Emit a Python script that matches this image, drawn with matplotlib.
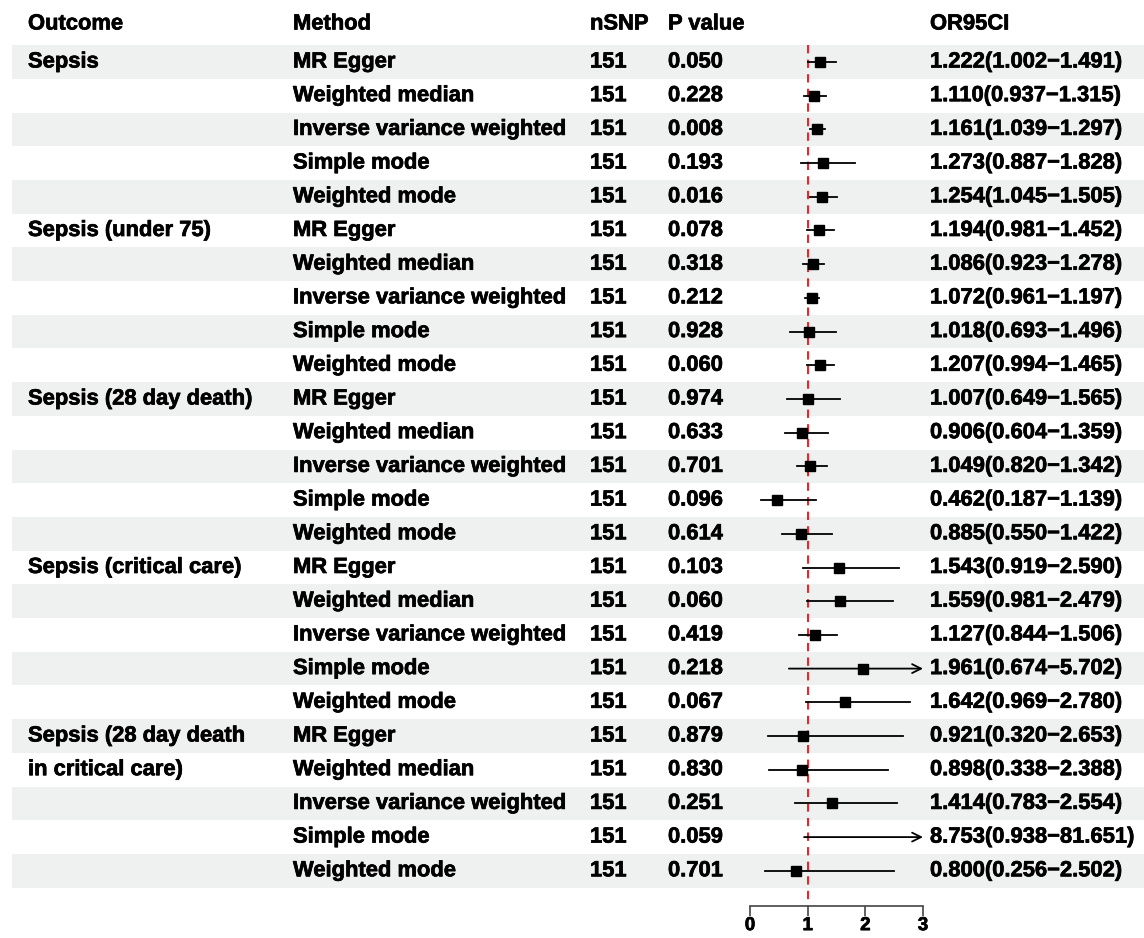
import matplotlib
matplotlib.use("Agg")
import matplotlib.pyplot as plt
from matplotlib.patches import Rectangle
import matplotlib.patheffects as pe

plt.rcParams["font.family"] = ["Liberation Sans", "DejaVu Sans"]
plt.rcParams["font.weight"] = "bold"

# ---- data ----
outcomes = ["Sepsis", "Sepsis (under 75)", "Sepsis (28 day death)",
            "Sepsis (critical care)", "Sepsis (28 day death\nin critical care)"]
methods = ["MR Egger", "Weighted median", "Inverse variance weighted",
           "Simple mode", "Weighted mode"]
nsnp = 151
pvals = [0.050, 0.228, 0.008, 0.193, 0.016,
         0.078, 0.318, 0.212, 0.928, 0.060,
         0.974, 0.633, 0.701, 0.096, 0.614,
         0.103, 0.060, 0.419, 0.218, 0.067,
         0.879, 0.830, 0.251, 0.059, 0.701]
odds = [1.222, 1.110, 1.161, 1.273, 1.254,
        1.194, 1.086, 1.072, 1.018, 1.207,
        1.007, 0.906, 1.049, 0.462, 0.885,
        1.543, 1.559, 1.127, 1.961, 1.642,
        0.921, 0.898, 1.414, 8.753, 0.800]
lower = [1.002, 0.937, 1.039, 0.887, 1.045,
         0.981, 0.923, 0.961, 0.693, 0.994,
         0.649, 0.604, 0.820, 0.187, 0.550,
         0.919, 0.981, 0.844, 0.674, 0.969,
         0.320, 0.338, 0.783, 0.938, 0.256]
upper = [1.491, 1.315, 1.297, 1.828, 1.505,
         1.452, 1.278, 1.197, 1.496, 1.465,
         1.565, 1.359, 1.342, 1.139, 1.422,
         2.590, 2.479, 1.506, 5.702, 2.780,
         2.653, 2.388, 2.554, 81.651, 2.502]
xticks = [0, 1, 2, 3]

W, H = 1144, 938
fig = plt.figure(figsize=(W / 100, H / 100), dpi=100)

# background / table axes in pixel units
bg = fig.add_axes([0, 0, 1, 1])
bg.set_xlim(0, W)
bg.set_ylim(H, 0)
bg.axis("off")

y0, dy = 62, 33.7
n = len(odds)
rows = [y0 + i * dy for i in range(n)]
fs = 15.8
heavy = [pe.withStroke(linewidth=0.5, foreground="black")]


def txt(x, y, s):
    bg.text(x, y, s, fontsize=fs, fontweight="bold", va="center", ha="left",
            path_effects=heavy)


for i, y in enumerate(rows):
    if i % 2 == 0:
        bg.add_patch(Rectangle((12, y - dy / 2), W - 12, dy,
                               facecolor="#eff1f0", edgecolor="none", zorder=0))

for x, t in [(28, "Outcome"), (293, "Method"), (590, "nSNP"),
             (668, "P value"), (930, "OR95CI")]:
    txt(x, 24, t)

for g, name in enumerate(outcomes):
    for k, line in enumerate(name.split("\n")):
        txt(28, rows[g * 5 + k], line)

for i, y in enumerate(rows):
    txt(293, y, methods[i % 5])
    txt(590, y, str(nsnp))
    txt(668, y, f"{pvals[i]:.3f}")
    txt(930, y, f"{odds[i]:.3f}({lower[i]:.3f}\u2212{upper[i]:.3f})")

# forest axes: x in OR units, y in same pixel rows
ax_bottom = 906
x0px, x3px = 750, 923
ax = fig.add_axes([x0px / W, (H - ax_bottom) / H, (x3px - x0px) / W, ax_bottom / H])
ax.set_xlim(xticks[0], xticks[-1])
ax.set_ylim(ax_bottom, 0)
ax.patch.set_alpha(0)
for s in ["top", "right", "left"]:
    ax.spines[s].set_visible(False)
ax.spines["bottom"].set_color("#444444")
ax.spines["bottom"].set_linewidth(1.2)
ax.set_yticks([])
ax.set_xticks(xticks)
ax.tick_params(axis="x", direction="out", length=7, width=1.2, color="#444444",
               labelsize=13.5, pad=1)
for lab in ax.get_xticklabels():
    lab.set_fontweight("bold")
    lab.set_path_effects(heavy)

ax.plot([1, 1], [rows[0] - dy / 2, ax_bottom], color="#e8262b", lw=1.5,
        ls=(0, (4, 3)), zorder=1, clip_on=False)

xmax = xticks[-1]
for i, y in enumerate(rows):
    lo, hi, o = lower[i], upper[i], odds[i]
    if hi > xmax:
        ax.annotate("", xy=(xmax, y), xytext=(lo, y),
                    arrowprops=dict(arrowstyle="->", color="black", lw=1.3,
                                    mutation_scale=16, shrinkA=0, shrinkB=0),
                    zorder=2)
    else:
        ax.plot([lo, hi], [y, y], color="black", lw=1.3, zorder=2)
    if o <= xmax:
        ax.plot(o, y, marker="s", color="black", ms=6.5, zorder=3)

fig.savefig("out.png", dpi=100)
